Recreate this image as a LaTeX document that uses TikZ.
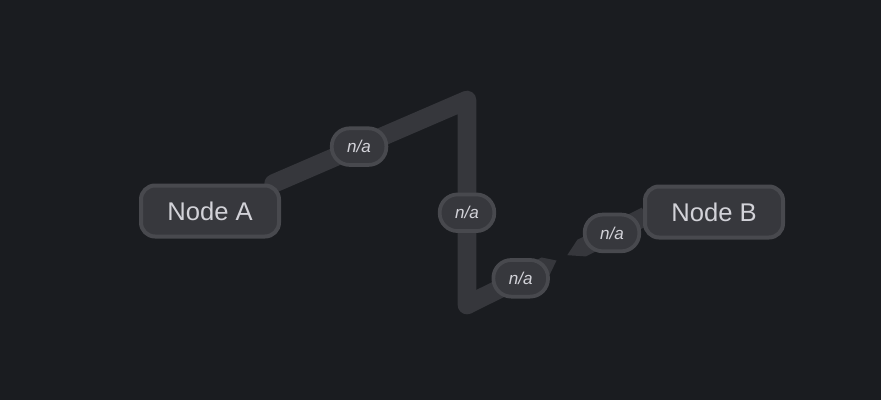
\documentclass[tikz,border=0pt]{standalone}
\usepackage{fontspec}
\setmainfont{Liberation Sans}
\usetikzlibrary{calc,backgrounds}
\definecolor{bgdark}{HTML}{1A1C20}
\definecolor{edgegray}{HTML}{36373C}
\definecolor{boxfill}{HTML}{37383D}
\definecolor{boxline}{HTML}{48494E}
\definecolor{txtgray}{HTML}{D2D2D8}
\tikzset{
  box/.style={draw=boxline,fill=boxfill,line width=3pt,rounded corners=10.5pt,minimum width=103.5pt,minimum height=38.25pt,inner sep=0pt,text=txtgray,font=\fontsize{19.2}{22}\selectfont},
  lbl/.style={draw=boxline,fill=boxfill,line width=2.8pt,rounded corners=13.5pt,minimum width=41pt,minimum height=27.5pt,inner sep=0pt,text=txtgray,font=\fontsize{12.8}{15}\selectfont\itshape},
  wire/.style={draw=edgegray,line width=14pt,line join=round,line cap=round}
}
\begin{document}
\begin{tikzpicture}[x=0.75pt,y=-0.75pt]
                \useasboundingbox (0,0) rectangle (881,400);
                \node[box] (A) at (210,211) {Node A};
                \node[box] (B) at (714,212) {Node B};
                \coordinate (c1) at (467,100);
                \coordinate (c2) at (467,305);
                \coordinate (be) at (646,216);
                \coordinate (p1) at ($(c2)!0.44!(be)$);
                \coordinate (m1) at ($(c2)!0.50!(be)$);
                \coordinate (m2) at ($(c2)!0.56!(be)$);
                \coordinate (p2) at ($(c2)!0.64!(be)$);
                \begin{scope}[on background layer]
                \fill[bgdark] (0,0) rectangle (881,400);
                \draw[wire] (A) -- (c1) -- (c2);
                \fill[edgegray] ($(c2)!7pt!90:(be)$) -- ($(p1)!7pt!90:(be)$) -- (m1) -- ($(p1)!7pt!-90:(be)$) -- ($(c2)!7pt!-90:(be)$) -- cycle;
                \fill[edgegray] ($(be)!7pt!90:(c2)$) -- ($(p2)!7pt!90:(c2)$) -- (m2) -- ($(p2)!7pt!-90:(c2)$) -- ($(be)!7pt!-90:(c2)$) -- cycle;
                \end{scope}
                \node[lbl] (l1) at ($(A)!0.58!(c1)$) {n/a};
                \node[lbl] (l2) at ($(c1)!0.55!(c2)$) {n/a};
                \node[lbl] (l3) at ($(c2)!0.30!(be)$) {n/a};
                \node[lbl] (l4) at ($(c2)!0.81!(be)$) {n/a};
            \end{tikzpicture}
\end{document}
